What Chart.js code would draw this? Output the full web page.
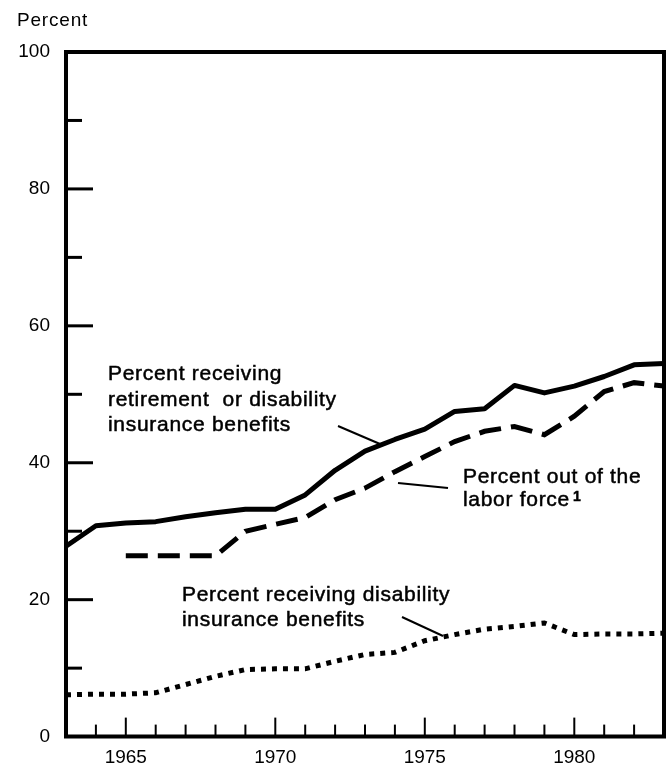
<!DOCTYPE html>
<html>
<head>
<meta charset="utf-8">
<script src="https://cdn.jsdelivr.net/npm/chart.js@4"></script>
<style>
  html, body { margin: 0; padding: 0; background: #fff; }
  #wrap { width: 668px; height: 764px; position: relative; }
</style>
</head>
<body>
<div id="wrap"><canvas id="myChart"></canvas></div>
<script>
// years on the x axis
const years = [1963, 1964, 1965, 1966, 1967, 1968, 1969, 1970, 1971, 1972, 1973,
  1974, 1975, 1976, 1977, 1978, 1979, 1980, 1981, 1982, 1983];

// percent receiving retirement or disability insurance benefits (solid)
const retireOrDisab = [27.8, 30.8, 31.2, 31.4, 32.1, 32.7, 33.2, 33.2, 35.3, 38.9, 41.7,
  43.4, 44.9, 47.5, 47.9, 51.3, 50.2, 51.2, 52.6, 54.3, 54.5];

// percent out of the labor force (dashed), starts 1965
const outOfLabor = [null, null, 26.4, 26.4, 26.4, 26.4, 30.0, 31.0, 32.0, 34.6, 36.3,
  38.7, 40.9, 43.1, 44.6, 45.3, 44.1, 46.8, 50.4, 51.7, 51.2];

// percent receiving disability insurance benefits (dotted)
const disabOnly = [6.1, 6.2, 6.2, 6.4, 7.6, 8.8, 9.8, 9.9, 9.9, 11.0, 12.0,
  12.3, 14.0, 14.9, 15.7, 16.1, 16.6, 14.9, 15.0, 15.0, 15.1];

const yLabelTicks = [0, 20, 40, 60, 80, 100];
const xLabelTicks = [1965, 1970, 1975, 1980];

function pts(vals) {
  return years.map((yr, i) => ({ x: yr, y: vals[i] }));
}

const FONT = "'Liberation Sans', Arial, Helvetica, sans-serif";

// writes text a bit heavier, like the printed original
function heavyText(ctx, s, x, y) {
  ctx.fillText(s, x, y);
  ctx.strokeText(s, x, y);
}

// frame, inward tick marks and the text notes
const decor = {
  id: "decor",
  afterDatasetsDraw(chart) {
    const ctx = chart.ctx;
    const a = chart.chartArea;
    const xs = chart.scales.x;
    const ys = chart.scales.y;
    ctx.save();
    ctx.strokeStyle = "#000";
    ctx.lineCap = "butt";

    // tick marks
    ctx.lineWidth = 3;
    for (let v = 10; v < 100; v += 10) {
      const py = ys.getPixelForValue(v);
      const len = v % 20 === 0 ? 27 : 16;
      ctx.beginPath();
      ctx.moveTo(a.left, py);
      ctx.lineTo(a.left + len, py);
      ctx.stroke();
    }
    ctx.lineWidth = 2;
    for (let yr = 1964; yr <= 1982; yr++) {
      const px = xs.getPixelForValue(yr);
      const len = yr % 5 === 0 ? 19 : 12;
      ctx.beginPath();
      ctx.moveTo(px, a.bottom);
      ctx.lineTo(px, a.bottom - len);
      ctx.stroke();
    }

    // box
    ctx.lineWidth = 4;
    ctx.beginPath();
    ctx.moveTo(a.left, a.top);
    ctx.lineTo(a.left, a.bottom);
    ctx.lineTo(a.right, a.bottom);
    ctx.lineTo(a.right, a.top);
    ctx.closePath();
    ctx.stroke();

    // leader lines
    ctx.lineWidth = 2;
    const leaders = [[338, 426, 380, 444], [398, 483, 448, 488], [402, 617, 443, 636]];
    leaders.forEach(l => {
      ctx.beginPath();
      ctx.moveTo(l[0], l[1]);
      ctx.lineTo(l[2], l[3]);
      ctx.stroke();
    });

    // notes
    ctx.fillStyle = "#000";
    ctx.lineWidth = 0.5;
    ctx.textBaseline = "middle";
    ctx.textAlign = "left";
    ctx.font = "21px " + FONT;
    ctx.letterSpacing = "0.7px";
    heavyText(ctx, "Percent receiving", 108, 374);
    heavyText(ctx, "retirement  or disability", 108, 400);
    heavyText(ctx, "insurance benefits", 108, 425);

    heavyText(ctx, "Percent out of the", 463, 477);
    heavyText(ctx, "labor force", 463, 500);
    const w = ctx.measureText("labor force").width;
    ctx.font = "bold 14px " + FONT;
    heavyText(ctx, "1", 463 + w + 3, 497);

    ctx.font = "21px " + FONT;
    heavyText(ctx, "Percent receiving disability", 182, 595);
    heavyText(ctx, "insurance benefits", 182, 620);

    // axis heading, plain weight
    ctx.font = "19px " + FONT;
    ctx.letterSpacing = "0.8px";
    ctx.fillText("Percent", 17, 21);
    ctx.restore();
  }
};

new Chart("myChart", {
  type: "line",
  data: {
    datasets: [
      {
        label: "Percent receiving retirement or disability insurance benefits",
        data: pts(retireOrDisab),
        borderColor: "#000",
        borderWidth: 5,
        pointRadius: 0,
        tension: 0,
        borderJoinStyle: "round",
      },
      {
        label: "Percent out of the labor force",
        data: pts(outOfLabor),
        borderColor: "#000",
        borderWidth: 5,
        borderDash: [22, 10],
        pointRadius: 0,
        tension: 0,
        spanGaps: false,
      },
      {
        label: "Percent receiving disability insurance benefits",
        data: pts(disabOnly),
        borderColor: "#000",
        borderWidth: 5,
        borderDash: [5, 6],
        pointRadius: 0,
        tension: 0,
      },
    ],
  },
  options: {
    responsive: true,
    maintainAspectRatio: false,
    animation: false,
    layout: { padding: { top: 52, right: 4, left: 0, bottom: 0 } },
    plugins: { legend: { display: false }, tooltip: { enabled: false } },
    scales: {
      x: {
        type: "linear",
        min: 1963,
        max: 1983,
        afterFit(s) { s.height = 27; },
        afterBuildTicks(s) { s.ticks = xLabelTicks.map(v => ({ value: v })); },
        grid: { display: false, drawTicks: false },
        border: { display: false },
        ticks: {
          color: "#000",
          padding: 10,
          maxRotation: 0,
          autoSkip: false,
          font: { family: FONT, size: 19 },
          callback: v => String(v),
        },
      },
      y: {
        min: 0,
        max: 100,
        afterFit(s) { s.width = 66; },
        afterBuildTicks(s) { s.ticks = yLabelTicks.map(v => ({ value: v })); },
        grid: { display: false, drawTicks: false },
        border: { display: false },
        ticks: {
          color: "#000",
          padding: 16,
          font: { family: FONT, size: 19 },
        },
      },
    },
  },
  plugins: [decor],
});
</script>
</body>
</html>
